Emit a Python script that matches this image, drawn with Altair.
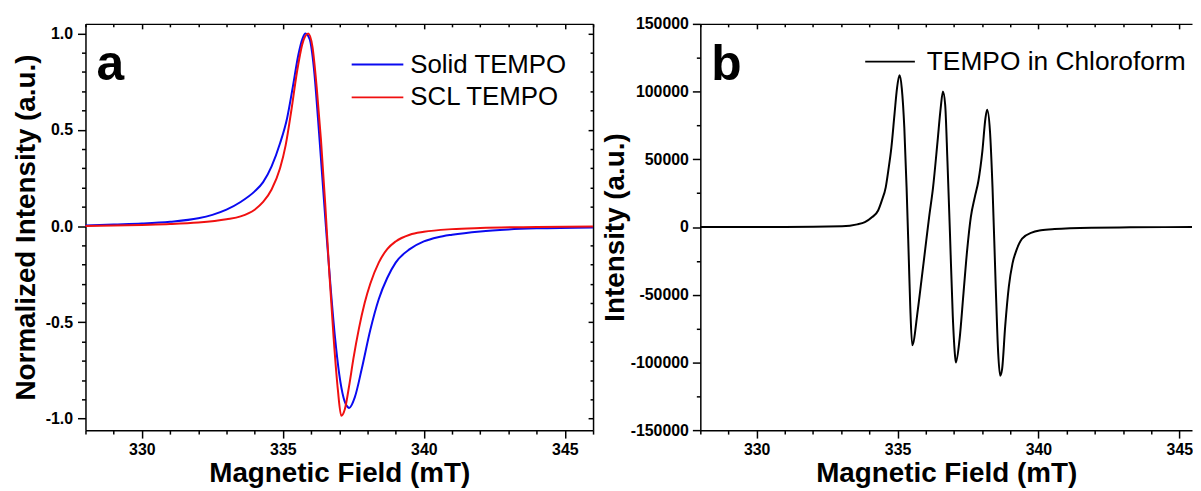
import altair as alt
import pandas as pd

FONT = "Liberation Sans"

# ---------------- Panel a: normalized EPR spectra ----------------
solid_field = [328.0, 329.0, 330.0, 331.0, 332.0, 332.5, 333.0, 333.5, 334.0, 334.3,
               334.6, 334.9, 335.15, 335.35, 335.55, 335.7, 335.8, 335.95, 336.1, 336.25,
               336.4, 336.55, 336.7, 336.85, 337.0, 337.15, 337.3, 337.35, 337.55, 337.8,
               338.1, 338.4, 338.7, 339.0, 339.5, 340.0, 340.5, 341.0, 342.0, 343.0,
               344.0, 346.0]
solid_int = [0.003, 0.008, 0.013, 0.022, 0.04, 0.058, 0.085, 0.125, 0.18, 0.228,
             0.31, 0.43, 0.56, 0.72, 0.89, 0.975, 1.0, 0.97, 0.82, 0.55,
             0.25, -0.05, -0.33, -0.58, -0.77, -0.89, -0.94, -0.945, -0.89, -0.74,
             -0.54, -0.38, -0.27, -0.19, -0.12, -0.08, -0.058, -0.045, -0.028, -0.018,
             -0.012, -0.007]

scl_field = [328.0, 330.0, 331.0, 332.0, 333.0, 333.5, 334.0, 334.3, 334.6, 334.9,
             335.1, 335.3, 335.5, 335.7, 335.9, 336.05, 336.2, 336.35, 336.5, 336.65,
             336.8, 336.95, 337.07, 337.2, 337.35, 337.5, 337.7, 337.9, 338.1, 338.4,
             338.7, 339.0, 339.5, 340.0, 341.0, 342.0, 344.0, 346.0]
scl_int = [0.0, 0.006, 0.01, 0.018, 0.035, 0.05, 0.085, 0.125, 0.19, 0.3,
           0.42, 0.6, 0.8, 0.95, 1.0, 0.93, 0.72, 0.45, 0.12, -0.25,
           -0.58, -0.85, -0.985, -0.95, -0.83, -0.69, -0.53, -0.40, -0.30, -0.19,
           -0.12, -0.08, -0.045, -0.03, -0.016, -0.01, -0.005, -0.002]

# ---------------- Panel b: TEMPO in chloroform ----------------
chl_field = [328.0, 331.0, 333.03, 333.57, 333.84, 334.10, 334.31, 334.44, 334.58, 334.67,
             334.78, 334.89, 334.98, 335.07, 335.15, 335.24, 335.32, 335.40, 335.45, 335.52,
             335.72, 335.85, 336.02, 336.12, 336.26, 336.42, 336.53, 336.61, 336.69, 336.77,
             336.86, 336.96, 337.04, 337.07, 337.20, 337.34, 337.47, 337.60, 337.74, 337.87,
             338.01, 338.12, 338.18, 338.28, 338.37, 338.48, 338.57, 338.64, 338.71, 338.82,
             338.95, 339.08, 339.22, 339.42, 339.76, 340.09, 340.57, 341.91, 343.26, 345.45]
chl_int = [0, 0, 490, 1950, 3660, 7320, 12200, 19500, 29270, 41460,
           58540, 82930, 102440, 112000, 102440, 73170, 29270, -24390, -58540, -87300,
           -60980, -39020, -9760, 7320, 29270, 63410, 87800, 100000, 90240, 48780,
           -4880, -65850, -95120, -100000, -82930, -48780, -17070, 7320, 21950, 34150,
           56100, 80490, 86600, 70730, 29270, -41460, -92680, -109760, -104880, -73170,
           -43900, -26830, -17070, -8540, -4150, -2440, -1460, -490, -240, 0]

# tick positions
xa_ticks = [328, 329, 330, 331, 332, 333, 334, 335, 336, 337, 338, 339, 340, 341, 342,
            343, 344, 345, 346]
xb_ticks = [328, 329, 330, 331, 332, 333, 334, 335, 336, 337, 338, 339, 340, 341, 342,
            343, 344, 345]
ya_ticks = [-1.0, -0.9, -0.8, -0.7, -0.6, -0.5, -0.4, -0.3, -0.2, -0.1, 0.0,
            0.1, 0.2, 0.3, 0.4, 0.5, 0.6, 0.7, 0.8, 0.9, 1.0]
yb_ticks = [-150000, -125000, -100000, -75000, -50000, -25000, 0, 25000, 50000,
            75000, 100000, 125000, 150000]

legend_a = ["Solid TEMPO", "SCL TEMPO"]
legend_b = ["TEMPO in Chloroform"]
colors_a = ["#0a0af0", "#f01010"]

W_A, W_B, H = 511, 495, 409

df_solid = pd.DataFrame({"field": solid_field, "intensity": solid_int})
df_scl = pd.DataFrame({"field": scl_field, "intensity": scl_int})
df_chl = pd.DataFrame({"field": chl_field, "intensity": chl_int})
one = pd.DataFrame({"k": [0]})

x_major = "datum.value % 5 === 0"
ya_major = "abs(round(datum.value * 10)) % 5 === 0"
yb_major = "datum.value % 50000 === 0"


def tsize(test, major, minor):
    return {"condition": {"test": test, "value": major}, "value": minor}


def x_axis_main(ticks):
    return alt.Axis(orient="bottom", values=ticks, format="d",
                    labelExpr=f"{x_major} ? datum.label : ''",
                    tickSize=tsize(x_major, 8, 4), labelOverlap=False,
                    labelFlush=False, labelPadding=4, titlePadding=2,
                    title="Magnetic Field (mT)")


def x_axis_top(ticks, h):
    return alt.Axis(orient="bottom", offset=-h, values=ticks, labels=False,
                    tickSize=tsize(x_major, 5, 3), title=None)


xa_scale = alt.Scale(domain=[328, 346], nice=False, zero=False)
xb_scale = alt.Scale(domain=[328, 345.45], nice=False, zero=False)
ya_scale = alt.Scale(domain=[-1.06, 1.05], nice=False, zero=False)
yb_scale = alt.Scale(domain=[-150000, 150000], nice=False, zero=False)

# ---------- panel a ----------
blue = alt.Chart(df_solid).mark_line(color=colors_a[0], strokeWidth=2, interpolate="monotone").encode(
    x=alt.X("field:Q", scale=xa_scale, axis=x_axis_main(xa_ticks)),
    y=alt.Y("intensity:Q", scale=ya_scale, axis=alt.Axis(
        orient="left", values=ya_ticks,
        labelExpr=f"{ya_major} ? (datum.value < 0 ? '-' + format(-datum.value, '.1f') : format(datum.value, '.1f')) : ''",
        tickSize=tsize(ya_major, 8, 4), labelOverlap=False, labelFlush=False,
        labelPadding=5, titlePadding=5, title="Normalized Intensity (a.u.)")),
)
red = alt.Chart(df_scl).mark_line(color=colors_a[1], strokeWidth=2, interpolate="monotone").encode(
    x=alt.X("field:Q", scale=xa_scale, axis=None),
    y=alt.Y("intensity:Q", scale=ya_scale, axis=None),
)
ghost_a = alt.Chart(df_solid).mark_line(strokeOpacity=0).encode(
    x=alt.X("field:Q", scale=xa_scale, axis=x_axis_top(xa_ticks, H)),
    y=alt.Y("intensity:Q", scale=ya_scale, axis=alt.Axis(
        orient="left", offset=-W_A, values=ya_ticks, labels=False,
        tickSize=tsize(ya_major, 5, 3), title=None)),
)

label_a = alt.Chart(one).mark_text(text="a", font=FONT, fontSize=50, fontWeight="bold",
                                   align="left", baseline="alphabetic", color="black").encode(
    x=alt.value(11), y=alt.value(56))
leg_line_a1 = alt.Chart(one).mark_rule(color=colors_a[0], strokeWidth=2).encode(
    x=alt.value(268), x2=alt.value(320), y=alt.value(41))
leg_line_a2 = alt.Chart(one).mark_rule(color=colors_a[1], strokeWidth=2).encode(
    x=alt.value(268), x2=alt.value(320), y=alt.value(74))
leg_text_a1 = alt.Chart(one).mark_text(text=legend_a[0], font=FONT, fontSize=26,
                                       align="left", baseline="middle", color="black").encode(
    x=alt.value(327), y=alt.value(41))
leg_text_a2 = alt.Chart(one).mark_text(text=legend_a[1], font=FONT, fontSize=26,
                                       align="left", baseline="middle", color="black").encode(
    x=alt.value(327), y=alt.value(74))

panel_a = alt.layer(blue, red, ghost_a, label_a, leg_line_a1, leg_line_a2,
                    leg_text_a1, leg_text_a2).resolve_axis(
    x="independent", y="independent").properties(width=W_A, height=H)

# ---------- panel b ----------
black = alt.Chart(df_chl).mark_line(color="black", strokeWidth=2, interpolate="monotone").encode(
    x=alt.X("field:Q", scale=xb_scale, axis=x_axis_main(xb_ticks)),
    y=alt.Y("intensity:Q", scale=yb_scale, axis=alt.Axis(
        orient="left", values=yb_ticks,
        labelExpr=f"{yb_major} ? (datum.value < 0 ? '-' + format(-datum.value, 'd') : format(datum.value, 'd')) : ''",
        tickSize=tsize(yb_major, 8, 4), labelOverlap=False, labelFlush=False,
        labelPadding=4, titlePadding=1, title="Intensity (a.u.)")),
)
ghost_b = alt.Chart(df_chl).mark_line(strokeOpacity=0).encode(
    x=alt.X("field:Q", scale=xb_scale, axis=x_axis_top(xb_ticks, H)),
    y=alt.Y("intensity:Q", scale=yb_scale, axis=None),
)
label_b = alt.Chart(one).mark_text(text="b", font=FONT, fontSize=50, fontWeight="bold",
                                   align="left", baseline="alphabetic", color="black").encode(
    x=alt.value(11), y=alt.value(56))
leg_line_b = alt.Chart(one).mark_rule(color="black", strokeWidth=2).encode(
    x=alt.value(166), x2=alt.value(216), y=alt.value(38))
leg_text_b = alt.Chart(one).mark_text(text=legend_b[0], font=FONT, fontSize=26.5,
                                      align="left", baseline="middle", color="black").encode(
    x=alt.value(228), y=alt.value(38))

panel_b = alt.layer(black, ghost_b, label_b, leg_line_b, leg_text_b).resolve_axis(
    x="independent", y="independent").properties(width=W_B, height=H)

chart = alt.hconcat(panel_a, panel_b, spacing=4).properties(
    autosize=alt.AutoSizeParams(type="none"),
    padding={"left": 78, "top": 13, "right": 1115, "bottom": 462},
).configure_view(stroke=None).configure_axis(
    grid=False, domain=True, domainColor="black", domainWidth=1.5,
    ticks=True, tickColor="black", tickWidth=1.5,
    labelFont=FONT, labelFontSize=16, labelFontWeight="bold", labelColor="black",
    titleFont=FONT, titleFontSize=28, titleFontWeight="bold", titleColor="black",
)

chart.save("out.html", embed_options={"renderer": "svg", "actions": False})
